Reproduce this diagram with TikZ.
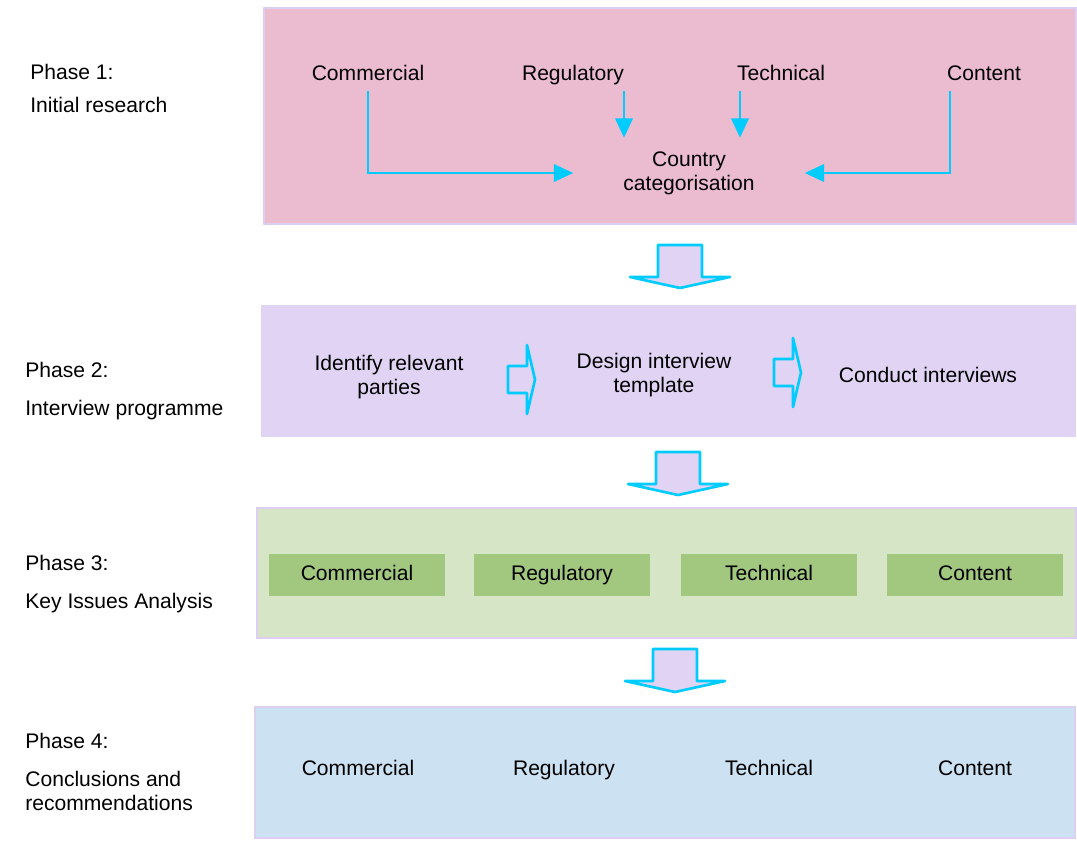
\documentclass[tikz,border=0pt]{standalone}
\usepackage{fontspec}
\setmainfont{Liberation Sans}
\usetikzlibrary{arrows.meta,calc}
\definecolor{pinkbg}{HTML}{EBBBD0}
\definecolor{lilac}{HTML}{E0D3F4}
\definecolor{lilacline}{HTML}{DCCFF2}
\definecolor{greenbg}{HTML}{D5E5C6}
\definecolor{greenbox}{HTML}{A2C77F}
\definecolor{bluebg}{HTML}{CCE1F2}
\definecolor{cyanline}{HTML}{00CCFF}

\begin{document}
\begin{tikzpicture}[
    x=0.02cm, y=-0.02cm,
    every node/.style={font=\fontsize{12}{13.6}\selectfont, text=black},
    topic/.style={text height=9pt, text depth=2.5pt},
    phaselabel/.style={topic, anchor=west, inner sep=0pt},
    phasebox/.style={draw=lilacline, line width=1.1pt},
    issue/.style={topic, fill=greenbox, minimum width=3.52cm, minimum height=0.84cm},
    flow/.style={-{Triangle[length=11pt, width=10pt]}, cyanline, line width=1.1pt},
    blockarrow/.style={draw=cyanline, fill=lilac, line width=1.5pt, line join=round}
]
\useasboundingbox (0,0) rectangle (1077,856);

% Phase backgrounds
\draw[phasebox, fill=pinkbg] (264,8) rectangle (1076,224);
\fill[lilac] (261,305) rectangle (1076,437);
\draw[phasebox, fill=greenbg] (257,508) rectangle (1076,638);
\draw[phasebox, fill=bluebg] (255,707) rectangle (1075,838);

% Phase labels
\node[phaselabel] (ph1) at (30,74) {Phase 1:};
\node[phaselabel] (ph1t) at (30,107) {Initial research};
\node[phaselabel] (ph2) at (25,372) {Phase 2:};
\node[phaselabel] (ph2t) at (25,410) {Interview programme};
\node[phaselabel] (ph3) at (25,565) {Phase 3:};
\node[phaselabel] (ph3t) at (25,603) {Key Issues Analysis};
\node[phaselabel] (ph4) at (25,743) {Phase 4:};
\node[phaselabel, align=left, text height=, text depth=] (ph4t) at (25,791) {Conclusions and\\recommendations};

% Phase 1: initial research
\node[topic] (comm) at (368,75) {Commercial};
\node[topic] (reg) at (573,75) {Regulatory};
\node[topic] (tech) at (781,75) {Technical};
\node[topic] (cont) at (984,75) {Content};
\node[align=center, inner sep=0pt, minimum width=4.62cm, minimum height=1.4cm] (cc) at (689,173) {Country\\categorisation};

\coordinate (regout) at ($(reg.south)+(51,0)$);
\coordinate (techout) at ($(tech.south)+(-41,0)$);
\coordinate (contout) at ($(cont.south)+(-34,0)$);
\draw[flow] (comm.south) |- (cc.west);
\draw[flow] (regout) -- (regout |- cc.north);
\draw[flow] (techout) -- (techout |- cc.north);
\draw[flow] (contout) |- (cc.east);

% Down arrows between phases
\foreach \x/\y in {680/245, 678/452, 675/649} {
    \draw[blockarrow] (\x-22,\y) -- (\x+22,\y) -- (\x+22,\y+32) -- (\x+50,\y+32)
        -- (\x,\y+43) -- (\x-50,\y+32) -- (\x-22,\y+32) -- cycle;
}

% Phase 2: interview programme
\node[align=center] (ident) at (389,377) {Identify relevant\\parties};
\node[align=center] (design) at (654,375) {Design interview\\template};
\node[topic] (conduct) at (928,377) {Conduct interviews};
\foreach \x/\y in {508/366, 774/359} {
    \draw[blockarrow] (\x,\y) -- (\x+19,\y) -- (\x+19,\y-21) -- (\x+27,\y+13.5)
        -- (\x+19,\y+48) -- (\x+19,\y+27) -- (\x,\y+27) -- cycle;
}

% Phase 3: key issues
\node[issue] (ki1) at (357,575) {Commercial};
\node[issue] (ki2) at (562,575) {Regulatory};
\node[issue] (ki3) at (769,575) {Technical};
\node[issue] (ki4) at (975,575) {Content};

% Phase 4: conclusions
\node[topic] (cr1) at (358,770) {Commercial};
\node[topic] (cr2) at (564,770) {Regulatory};
\node[topic] (cr3) at (769,770) {Technical};
\node[topic] (cr4) at (975,770) {Content};
\end{tikzpicture}
\end{document}
